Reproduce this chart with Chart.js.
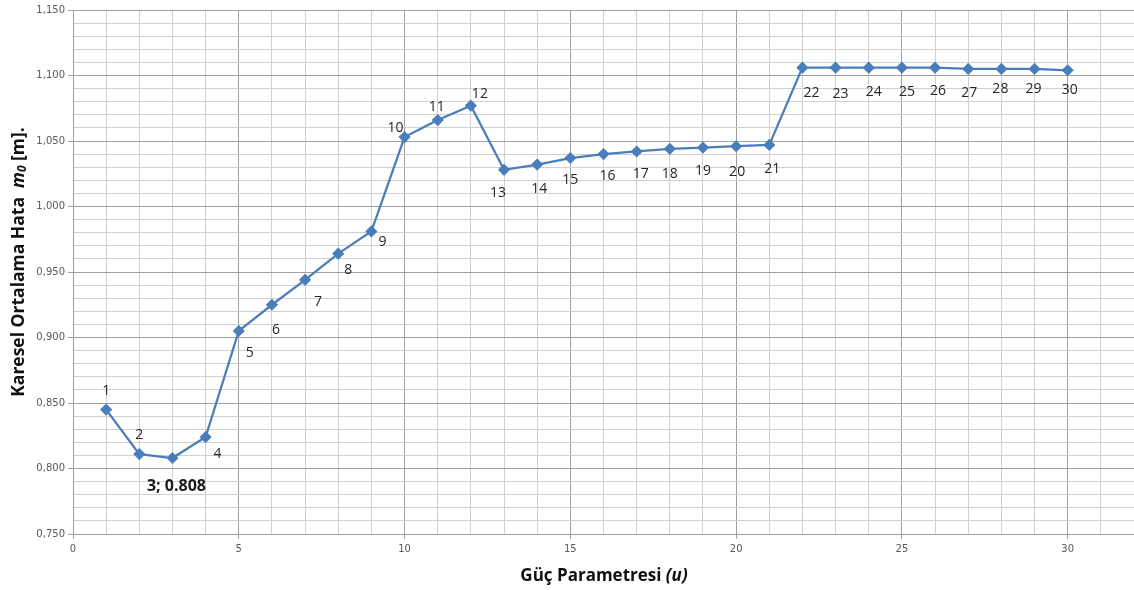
<!DOCTYPE html>
<html>
<head>
<meta charset="utf-8">
<script src="https://cdn.jsdelivr.net/npm/chart.js@4.4.0/dist/chart.umd.min.js"></script>
<style>
	html, body { margin: 0; padding: 0; background: #fff; }
	#wrap { width: 1134px; height: 590px; position: relative; }
</style>
</head>
<body>
<div id="wrap"><canvas id="rmsChart"></canvas></div>
<script>
// power parameter u and the resulting RMS error m0 [m]
const uValues = [1, 2, 3, 4, 5, 6, 7, 8, 9, 10, 11, 12, 13, 14, 15, 16, 17, 18, 19, 20, 21, 22, 23, 24, 25, 26, 27, 28, 29, 30];
const m0Values = [0.845, 0.811, 0.808, 0.824, 0.905, 0.925, 0.944, 0.964, 0.981, 1.053, 1.066, 1.077, 1.028, 1.032, 1.037, 1.040, 1.042, 1.044, 1.045, 1.046, 1.047, 1.106, 1.106, 1.106, 1.106, 1.106, 1.105, 1.105, 1.105, 1.104];
const xTickLabels = ["0", "5", "10", "15", "20", "25", "30"];
const yTickLabels = ["0,750", "0,800", "0,850", "0,900", "0,950", "1,000", "1,050", "1,100", "1,150"];
const minPointIndex = 2; // u = 3 gets the "u; value" label

// where each point label sits relative to its marker (px)
const labelOffsets = [
	[0, -19], [0, -19], [4, 28], [12, 17], [11, 22], [4, 25], [13, 22], [10, 16], [11, 11], [-9, -9],
	[-1, -13], [9, -12], [-6, 23], [2, 24], [0, 22], [4, 22], [4, 23], [0, 25], [0, 23], [1, 26],
	[3, 24], [9, 25], [5, 26], [5, 24], [5, 24], [3, 23], [1, 24], [-1, 20], [-1, 20], [2, 20],
];

const LINE_BLUE = "#4a7ebb";
const GRID_MINOR = "#d0d0d0";
const GRID_MAJOR = "#a0a0a0";

function isMultiple(v, step) {
	const q = v / step;
	return Math.abs(q - Math.round(q)) < 1e-6;
}

function fmtValue(v) {
	return v.toFixed(3);
}

// number labels next to each marker
const pointLabels = {
	id: "pointLabels",
	afterDatasetsDraw(chart) {
		const { ctx } = chart;
		const meta = chart.getDatasetMeta(0);
		ctx.save();
		ctx.textAlign = "center";
		ctx.textBaseline = "middle";
		meta.data.forEach((pt, i) => {
			const [dx, dy] = labelOffsets[i];
			let text = String(uValues[i]);
			if (i === minPointIndex) {
				text = uValues[i] + "; " + fmtValue(m0Values[i]);
				ctx.font = "bold 16px 'Open Sans', sans-serif";
				ctx.fillStyle = "#1a1a1a";
			} else {
				ctx.font = "14px 'Open Sans', sans-serif";
				ctx.fillStyle = "#262626";
			}
			ctx.fillText(text, pt.x + dx, pt.y + dy);
		});
		ctx.restore();
	},
};

// draw text made of pieces with different fonts, centred on the origin
function drawRuns(ctx, runs) {
	let total = 0;
	runs.forEach((r) => {
		ctx.font = r.font;
		r.w = ctx.measureText(r.text).width;
		total += r.w;
	});
	let x = -total / 2;
	runs.forEach((r) => {
		ctx.font = r.font;
		ctx.fillText(r.text, x, r.dy || 0);
		x += r.w;
	});
}

// axis titles with italic symbols
const axisTitles = {
	id: "axisTitles",
	afterDraw(chart) {
		const { ctx } = chart;
		const bold = "bold 17.5px 'Open Sans', sans-serif";
		const boldItalic = "italic bold 17.5px 'Open Sans', sans-serif";
		const sub = "italic bold 12px 'Open Sans', sans-serif";
		ctx.save();
		ctx.fillStyle = "#111";
		ctx.textBaseline = "middle";
		ctx.textAlign = "left";

		ctx.save();
		ctx.translate(19, 262);
		ctx.rotate(-Math.PI / 2);
		drawRuns(ctx, [
			{ text: "Karesel Ortalama Hata  ", font: bold },
			{ text: "m", font: boldItalic },
			{ text: "0", font: sub, dy: 4 },
			{ text: " [m].", font: bold },
		]);
		ctx.restore();

		ctx.save();
		ctx.translate(604, 576);
		drawRuns(ctx, [
			{ text: "Güç Parametresi ", font: "bold 17px 'Open Sans', sans-serif" },
			{ text: "(u)", font: "italic bold 17px 'Open Sans', sans-serif" },
		]);
		ctx.restore();
		ctx.restore();
	},
};

const ctx = document.getElementById("rmsChart");

new Chart(ctx, {
	type: "line",
	data: {
		datasets: [
			{
				data: uValues.map((u, i) => ({ x: u, y: m0Values[i] })),
				borderColor: LINE_BLUE,
				backgroundColor: LINE_BLUE,
				borderWidth: 2.25,
				pointStyle: "rectRot",
				pointRadius: 4.5,
				pointHoverRadius: 4.5,
				tension: 0,
			},
		],
	},
	options: {
		responsive: true,
		maintainAspectRatio: false,
		animation: false,
		layout: {
			autoPadding: false,
			padding: { top: 10, right: 0, left: 0, bottom: 0 },
		},
		plugins: {
			legend: { display: false },
			tooltip: { enabled: false },
		},
		scales: {
			x: {
				type: "linear",
				min: 0,
				max: 32,
				afterFit: (s) => {
					s.height = 56;
					s.paddingLeft = 0;
					s.paddingRight = 0;
				},
				border: { color: GRID_MAJOR, width: 1 },
				grid: {
					color: (c) => (isMultiple(c.tick.value, 5) ? GRID_MAJOR : GRID_MINOR),
					tickColor: (c) => (isMultiple(c.tick.value, 5) ? GRID_MAJOR : "rgba(0,0,0,0)"),
					tickLength: 5,
				},
				ticks: {
					stepSize: 1,
					autoSkip: false,
					maxRotation: 0,
					padding: 4,
					color: "#595959",
					font: { family: "'DejaVu Sans', sans-serif", size: 10 },
					callback: (v) => {
						const k = xTickLabels.indexOf(String(v));
						return k >= 0 ? xTickLabels[k] : "";
					},
				},
			},
			y: {
				type: "linear",
				min: 0.75,
				max: 1.15,
				afterFit: (s) => { s.width = 73; },
				border: { color: GRID_MAJOR, width: 1 },
				grid: {
					color: (c) => (isMultiple(c.tick.value, 0.05) ? GRID_MAJOR : GRID_MINOR),
					tickColor: (c) => (isMultiple(c.tick.value, 0.05) ? GRID_MAJOR : "rgba(0,0,0,0)"),
					tickLength: 5,
				},
				ticks: {
					stepSize: 0.01,
					autoSkip: false,
					padding: 3,
					color: "#595959",
					font: { family: "'DejaVu Sans', sans-serif", size: 10 },
					callback: (v) => {
						if (!isMultiple(v, 0.05)) return "";
						const k = Math.round((v - 0.75) / 0.05);
						return yTickLabels[k];
					},
				},
			},
		},
	},
	plugins: [pointLabels, axisTitles],
});
</script>
</body>
</html>
